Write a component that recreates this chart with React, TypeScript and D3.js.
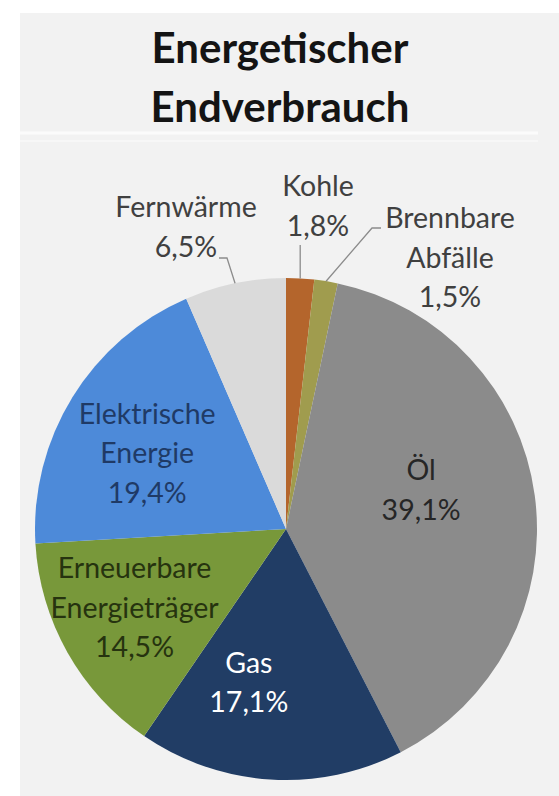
import React from "react";
import * as d3 from "d3";

const categories = ["Kohle", "Brennbare Abfälle", "Öl", "Gas", "Erneuerbare Energieträger", "Elektrische Energie", "Fernwärme"];
const values = [1.8, 1.5, 39.1, 17.1, 14.5, 19.4, 6.5];
const nameLines = [["Kohle"], ["Brennbare", "Abfälle"], ["Öl"], ["Gas"], ["Erneuerbare", "Energieträger"], ["Elektrische", "Energie"], ["Fernwärme"]];
const colors = ["#b4652c", "#a09c4e", "#8b8b8b", "#213d65", "#78983a", "#4d8ad9", "#dadada"];
const textColors = ["#404040", "#404040", "#262626", "#ffffff", "#26330f", "#1f3a66", "#404040"];
const titleLines = ["Energetischer", "Endverbrauch"];

// label layout: inside labels use angle offset (deg) and radius factor; outside labels use anchor + leader elbow
const insideLayout: Record<number, { dAng: number; rf: number }> = {
  2: { dAng: -8.4, rf: 0.56 },
  3: { dAng: 10, rf: 0.63 },
  4: { dAng: 2, rf: 0.68 },
  5: { dAng: -3, rf: 0.63 },
};
const outsideLayout: Record<number, { x: number; y: number; elbow: [number, number]; end: [number, number] }> = {
  0: { x: 318, y: 206, elbow: [0, 245], end: [0, 245] },
  1: { x: 450, y: 258, elbow: [372, 228], end: [381, 228] },
  6: { x: 186, y: 227, elbow: [227, 258], end: [219, 258] },
};

const W = 559;
const H = 796;
const cx = 286;
const cy = 529;
const R = 251;
const LINE = 39.5;
const FONT = "Lato, 'Open Sans', sans-serif";

export default function App() {
  const pie = d3.pie<number>().sort(null).value((d) => d).startAngle(0).endAngle(2 * Math.PI);
  const arcs = pie(values);
  const arc = d3.arc<d3.PieArcDatum<number>>().innerRadius(0).outerRadius(R);
  const fmt = (v: number) => d3.format(".1f")(v).replace(".", ",") + "%";

  return (
    <svg width={W} height={H} style={{ position: "absolute", left: 0, top: 0, display: "block" }}>
      <rect x={0} y={0} width={W} height={H} fill="#ffffff" />
      <rect x={20} y={13} width={W - 20} height={H - 13} fill="#f2f2f2" />
      <line x1={20} x2={538} y1={133} y2={133} stroke="#fbfbfb" strokeWidth={3} />
      <line x1={20} x2={538} y1={141} y2={141} stroke="#f7f7f7" strokeWidth={2} />
      {titleLines.map((t, i) => (
        <text key={t} x={280} y={63 + i * 59} textAnchor="middle" fontFamily={FONT} fontWeight={700} fontSize={42} fill="#141414">
          {t}
        </text>
      ))}
      <g transform={`translate(${cx},${cy})`}>
        {arcs.map((a, i) => (
          <path key={categories[i]} d={arc(a) || ""} fill={colors[i]} />
        ))}
      </g>
      {arcs.map((a, i) => {
        const lines = [...nameLines[i], fmt(values[i])];
        const mid = (a.startAngle + a.endAngle) / 2;
        let x: number, y: number;
        let leader: React.ReactNode = null;
        if (insideLayout[i]) {
          const L = insideLayout[i];
          const ang = mid + (L.dAng * Math.PI) / 180;
          x = cx + Math.sin(ang) * R * L.rf;
          y = cy - Math.cos(ang) * R * L.rf;
        } else {
          const L = outsideLayout[i];
          x = L.x;
          y = L.y;
          const px = cx + Math.sin(mid) * R;
          const py = cy - Math.cos(mid) * R;
          const ex = L.elbow[0] === 0 ? px : L.elbow[0];
          const enx = L.end[0] === 0 ? px : L.end[0];
          leader = (
            <polyline
              points={`${px},${py} ${ex},${L.elbow[1]} ${enx},${L.end[1]}`}
              fill="none"
              stroke="#8c8c8c"
              strokeWidth={1.3}
            />
          );
        }
        const y0 = y - ((lines.length - 1) * LINE) / 2;
        return (
          <g key={categories[i] + "-lbl"}>
            {leader}
            <text textAnchor="middle" fontFamily={FONT} fontSize={28.5} fill={textColors[i]}>
              {lines.map((l, j) => (
                <tspan key={j} x={x} y={y0 + j * LINE} dy="0.35em">
                  {l}
                </tspan>
              ))}
            </text>
          </g>
        );
      })}
    </svg>
  );
}
